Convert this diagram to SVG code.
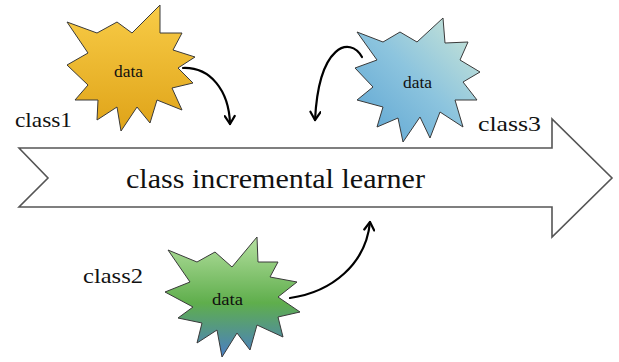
<svg xmlns="http://www.w3.org/2000/svg" width="619" height="362" viewBox="0 0 619 362">
<style>
.lbl{font-family:"Liberation Serif","Times New Roman",serif;fill:#111}
.star{stroke:#3a3a3a;stroke-width:1;stroke-linejoin:miter}
.conn{fill:none;stroke:#000;stroke-width:2.2;stroke-linecap:round}
</style>
<defs>
<linearGradient id="gy" x1="0" y1="0" x2="0" y2="1">
<stop offset="0" stop-color="#f8cc47"/>
<stop offset="1" stop-color="#dfa318"/>
</linearGradient>
<linearGradient id="gb" x1="1" y1="0" x2="0" y2="1">
<stop offset="0" stop-color="#cfe8d6"/>
<stop offset="0.5" stop-color="#8cc4de"/>
<stop offset="1" stop-color="#5aa3d2"/>
</linearGradient>
<linearGradient id="gg" x1="0" y1="0" x2="0" y2="1">
<stop offset="0" stop-color="#b5e0a0"/>
<stop offset="0.55" stop-color="#5fae4c"/>
<stop offset="1" stop-color="#4a7ec4"/>
</linearGradient>
<marker id="ah" viewBox="0 0 12 12" refX="10" refY="6" markerWidth="12" markerHeight="12" markerUnits="userSpaceOnUse" orient="auto">
<path d="M2,1 L10,6 L2,11" fill="none" stroke="#000" stroke-width="2.2" stroke-linecap="round" stroke-linejoin="round"/>
</marker>
</defs>
<rect width="619" height="362" fill="#fff"/>
<g id="learner">
<polygon points="19,148 552,148 552,119 612,178 552,237 552,207 19,207 48,178" fill="#fff" stroke="#555" stroke-width="1.6"/>
<text class="lbl" x="126" y="188" font-size="28" textLength="299" lengthAdjust="spacingAndGlyphs">class incremental learner</text>
</g>
<g id="class1">
<polygon class="star" fill="url(#gy)" points="67,22 97,33 117,22 132,33 160,5 160,33 182,33 173,50 195,57 178,68 193,83 172,88 182,110 157,100 150,123 137,107 121,131 117,107 97,120 98,100 75,100 88,85 67,65 88,53"/>
<text class="lbl" x="114" y="77" font-size="16" textLength="29" lengthAdjust="spacingAndGlyphs">data</text>
<text class="lbl" x="15" y="127" font-size="21" textLength="57" lengthAdjust="spacingAndGlyphs">class1</text>
</g>
<g id="class3">
<polygon class="star" fill="url(#gb)" points="357,32 383,42 400,32 417,42 443,18 445,43 468,42 460,60 480,72 463,82 477,100 455,100 463,127 440,112 430,138 420,117 403,142 398,118 377,127 383,107 357,100 373,87 355,68 377,60"/>
<text class="lbl" x="403" y="88" font-size="16" textLength="29" lengthAdjust="spacingAndGlyphs">data</text>
<text class="lbl" x="478" y="131" font-size="21" textLength="63" lengthAdjust="spacingAndGlyphs">class3</text>
</g>
<g id="class2">
<polygon class="star" fill="url(#gg)" points="168,250 197,262 215,252 232,267 257,237 258,262 278,262 270,277 297,282 278,297 300,312 278,317 283,337 257,325 250,350 237,333 222,357 217,330 197,343 202,323 178,318 193,307 165,292 190,282"/>
<text class="lbl" x="212" y="305" font-size="16" textLength="31" lengthAdjust="spacingAndGlyphs">data</text>
<text class="lbl" x="83" y="283" font-size="21" textLength="60" lengthAdjust="spacingAndGlyphs">class2</text>
</g>
<g id="connectors">
<path class="conn" d="M183,68 C210,67 229,90 230,124" marker-end="url(#ah)"/>
<path class="conn" d="M362,57 C350,36 319,44 315,120" marker-end="url(#ah)"/>
<path class="conn" d="M290,298 C332,292 366,264 370,222" marker-end="url(#ah)"/>
</g>
</svg>
